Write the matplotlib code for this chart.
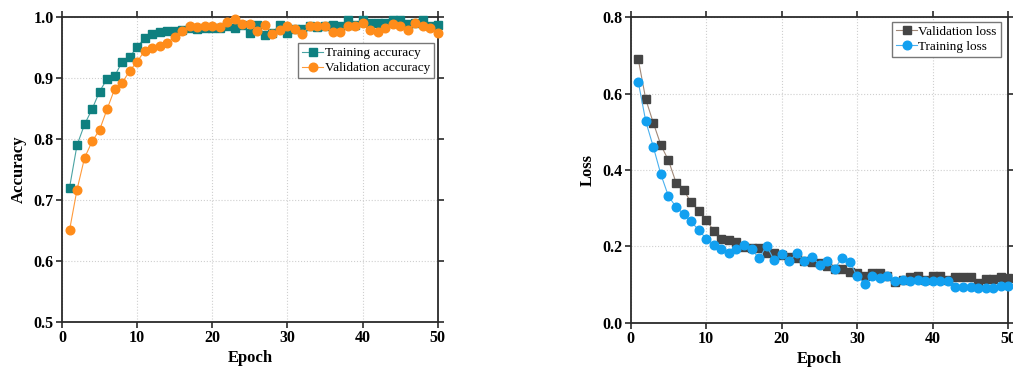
import numpy as np
import matplotlib
matplotlib.use('Agg')
import matplotlib.pyplot as plt

plt.rcParams['font.family'] = ['Liberation Serif', 'DejaVu Serif']

epochs = list(range(1, 51))

train_acc = [0.720, 0.790, 0.824, 0.849, 0.878, 0.899, 0.903, 0.927, 0.935, 0.951,
             0.966, 0.972, 0.976, 0.978, 0.978, 0.979, 0.983, 0.980, 0.982, 0.982,
             0.982, 0.986, 0.982, 0.988, 0.975, 0.987, 0.971, 0.975, 0.987, 0.974,
             0.981, 0.980, 0.986, 0.984, 0.986, 0.987, 0.985, 0.995, 0.987, 0.996,
             0.991, 0.991, 0.991, 0.996, 0.995, 0.989, 0.991, 0.995, 0.986, 0.987]
val_acc = [0.650, 0.717, 0.769, 0.796, 0.815, 0.849, 0.882, 0.892, 0.912, 0.927,
           0.945, 0.950, 0.953, 0.958, 0.968, 0.978, 0.986, 0.984, 0.986, 0.986,
           0.984, 0.993, 0.997, 0.989, 0.989, 0.978, 0.988, 0.973, 0.979, 0.985,
           0.980, 0.973, 0.986, 0.986, 0.985, 0.976, 0.976, 0.986, 0.986, 0.990,
           0.979, 0.976, 0.982, 0.989, 0.985, 0.979, 0.990, 0.985, 0.982, 0.975]

val_loss = [0.690, 0.585, 0.523, 0.465, 0.425, 0.367, 0.347, 0.315, 0.293, 0.268,
            0.241, 0.220, 0.216, 0.211, 0.199, 0.195, 0.195, 0.182, 0.182, 0.177,
            0.171, 0.168, 0.162, 0.159, 0.155, 0.147, 0.141, 0.140, 0.132, 0.129,
            0.121, 0.129, 0.129, 0.121, 0.107, 0.112, 0.119, 0.122, 0.112, 0.121,
            0.121, 0.112, 0.118, 0.119, 0.120, 0.103, 0.113, 0.114, 0.120, 0.117]
train_loss = [0.631, 0.527, 0.460, 0.388, 0.331, 0.303, 0.284, 0.265, 0.242, 0.220,
              0.204, 0.193, 0.182, 0.194, 0.204, 0.192, 0.168, 0.201, 0.163, 0.180,
              0.161, 0.182, 0.160, 0.172, 0.152, 0.161, 0.141, 0.170, 0.159, 0.121,
              0.102, 0.121, 0.117, 0.121, 0.109, 0.112, 0.109, 0.112, 0.109, 0.109,
              0.109, 0.109, 0.093, 0.093, 0.093, 0.091, 0.091, 0.091, 0.096, 0.096]


def estilo_ejes(ax):
    for s in ax.spines.values():
        s.set_color('#2a2a2a')
        s.set_linewidth(1.3)
    ax.tick_params(axis='both', direction='out', length=4, width=1.2,
                   color='#2a2a2a', labelsize=11.5, top=True, right=True,
                   labeltop=False, labelright=False, pad=2)
    for lab in ax.get_xticklabels() + ax.get_yticklabels():
        lab.set_fontweight('bold')
    ax.grid(True, linestyle=':', color='#cfcfcf', linewidth=0.8)
    ax.set_axisbelow(True)


fig = plt.figure(figsize=(10.13, 3.71), dpi=100)

# --- Accuracy ---
ax1 = fig.add_axes([0.0612, 0.1329, 0.3709, 0.8205])
ax1.plot(epochs, train_acc, color='#4aa3a3', linewidth=0.8, marker='s',
         markersize=5.5, markerfacecolor='#0f8080', markeredgecolor='#0f8080',
         label='Training accuracy', clip_on=False, zorder=3)
ax1.plot(epochs, val_acc, color='#ff9a3a', linewidth=0.8, marker='o',
         markersize=6.2, markerfacecolor='#ff8c1a', markeredgecolor='#ff8c1a',
         label='Validation accuracy', clip_on=False, zorder=3)
ax1.set_xlim(0, 50)
ax1.set_ylim(0.5, 1.0)
ax1.set_xticks([0, 10, 20, 30, 40, 50])
ax1.set_yticks([0.5, 0.6, 0.7, 0.8, 0.9, 1.0])
ax1.set_xlabel('Epoch', fontsize=12, fontweight='bold', labelpad=3)
ax1.set_ylabel('Accuracy', fontsize=12, fontweight='bold', labelpad=5)
estilo_ejes(ax1)
ax1.legend(loc='upper right', bbox_to_anchor=(0.99, 0.915), borderaxespad=0,
           fontsize=9.5, frameon=True, fancybox=False, edgecolor='#777777',
           handlelength=1.6, handletextpad=0.1, borderpad=0.3, labelspacing=0.2,
           framealpha=1)

# --- Loss ---
ax2 = fig.add_axes([0.6226, 0.1307, 0.3728, 0.8226])
ax2.plot(epochs, val_loss, color='#a08878', linewidth=0.8, marker='s',
         markersize=5.5, markerfacecolor='#454545', markeredgecolor='#454545',
         label='Validation loss', clip_on=False, zorder=3)
ax2.plot(epochs, train_loss, color='#4ab0ee', linewidth=0.8, marker='o',
         markersize=6.2, markerfacecolor='#12a0f0', markeredgecolor='#12a0f0',
         label='Training loss', clip_on=False, zorder=3)
ax2.set_xlim(0, 50)
ax2.set_ylim(0.0, 0.8)
ax2.set_xticks([0, 10, 20, 30, 40, 50])
ax2.set_yticks([0.0, 0.2, 0.4, 0.6, 0.8])
ax2.set_xlabel('Epoch', fontsize=12, fontweight='bold', labelpad=3)
ax2.set_ylabel('Loss', fontsize=12, fontweight='bold', labelpad=5)
estilo_ejes(ax2)
ax2.legend(loc='upper right', bbox_to_anchor=(0.98, 0.985), borderaxespad=0,
           fontsize=9.5, frameon=True, fancybox=False, edgecolor='#777777',
           handlelength=1.6, handletextpad=0.1, borderpad=0.3, labelspacing=0.2,
           framealpha=1)

fig.savefig('out.png', dpi=100)
